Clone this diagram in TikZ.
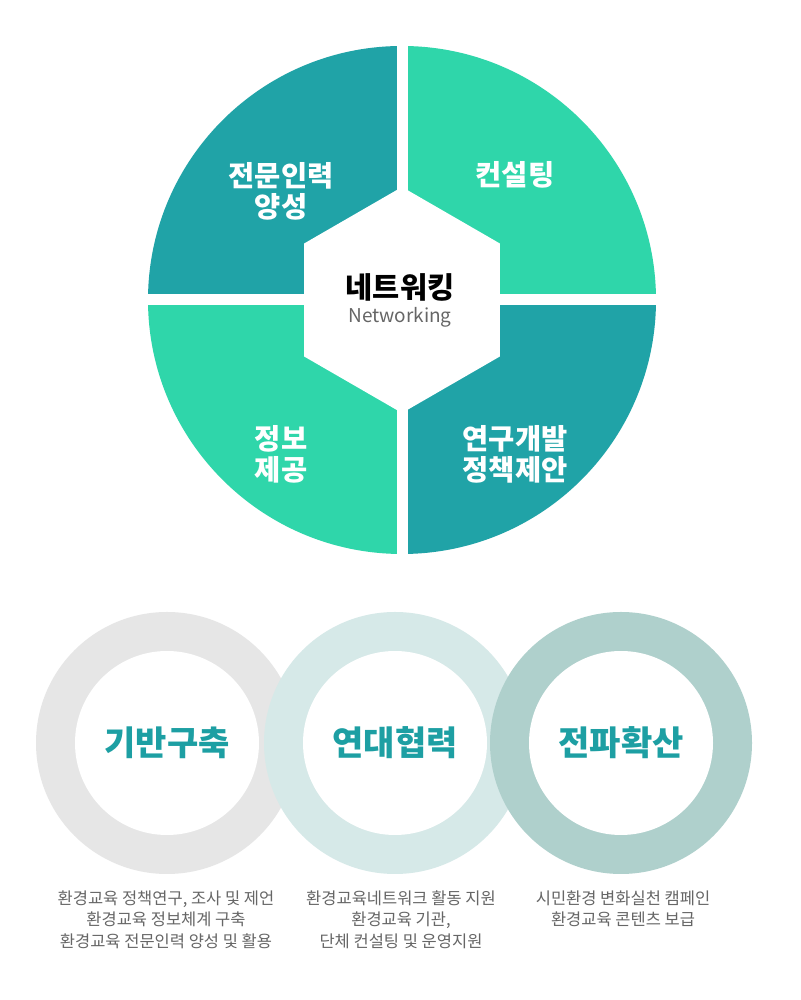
\documentclass[tikz,border=0pt]{standalone}
\usepackage{fontspec}
\setmainfont{Noto Sans CJK KR}
\usetikzlibrary{shapes.geometric}

\definecolor{tealdark}{HTML}{20A3A7}
\definecolor{mint}{HTML}{2FD6AA}
\definecolor{ringa}{HTML}{E6E6E6}
\definecolor{ringb}{HTML}{D6E9E8}
\definecolor{ringc}{HTML}{AFD0CC}
\definecolor{ringtext}{HTML}{1D9FA3}
\definecolor{desctext}{HTML}{666666}

\begin{document}
\begin{tikzpicture}[x=1pt,y=1pt,
    quadlabel/.style={text=white, font=\fontsize{28.5}{31}\selectfont\bfseries, align=center},
    ringlabel/.style={text=ringtext, font=\fontsize{34}{38}\selectfont\bfseries},
    desc/.style={text=desctext, font=\fontsize{16.5}{21.5}\selectfont, align=center, anchor=north}]
    \useasboundingbox (0,0) rectangle (800,1000);
    \fill[white] (0,0) rectangle (800,1000);

    % 사분면 원
    \coordinate (c) at (402,700);
    \fill[tealdark] (c) -- ++(-254,0) arc (180:90:254) -- cycle;
    \fill[mint] (c) -- ++(0,254) arc (90:0:254) -- cycle;
    \fill[tealdark] (c) -- ++(254,0) arc (0:-90:254) -- cycle;
    \fill[mint] (c) -- ++(0,-254) arc (-90:-180:254) -- cycle;

    % 간격
    \draw[white, line width=11pt] (c) ++(-262,0) -- ++(524,0);
    \draw[white, line width=11pt] (c) ++(0,-262) -- ++(0,524);

    % 가운데 육각형
    \node[regular polygon, regular polygon sides=6, shape border rotate=90,
        minimum size=226pt, inner sep=0pt, fill=white] (hub) at (c) {};
    \node[font=\fontsize{29.5}{32}\selectfont\bfseries] (hubko) at (400,713) {네트워킹};
    \node[text=desctext, font=\fontsize{19}{22}\selectfont] (huben) at (400,683) {Networking};

    % 사분면 글자
    \node[quadlabel] (training) at (281,809) {전문인력\\양성};
    \node[quadlabel] (consult) at (515,825) {컨설팅};
    \node[quadlabel] (info) at (281,546) {정보\\제공};
    \node[quadlabel] (research) at (515,546) {연구개발\\정책제안};

    % 아래 고리
    \fill[ringa] (167,257) circle (131);
    \fill[white] (167,257) circle (92);
    \fill[ringb] (395,257) circle (131);
    \fill[white] (395,257) circle (92);
    \fill[ringc] (621,257) circle (131);
    \fill[white] (621,257) circle (92);

    \node[ringlabel] (base) at (167,257) {기반구축};
    \node[ringlabel] (solid) at (395,257) {연대협력};
    \node[ringlabel] (spread) at (621,257) {전파확산};

    % 설명
    \node[desc] (basetxt) at (166,113) {환경교육 정책연구, 조사 및 제언\\환경교육 정보체계 구축\\환경교육 전문인력 양성 및 활용};
    \node[desc] (solidtxt) at (401,113) {환경교육네트워크 활동 지원\\환경교육 기관,\\단체 컨설팅 및 운영지원};
    \node[desc] (spreadtxt) at (623,113) {시민환경 변화실천 캠페인\\환경교육 콘텐츠 보급};
\end{tikzpicture}
\end{document}
